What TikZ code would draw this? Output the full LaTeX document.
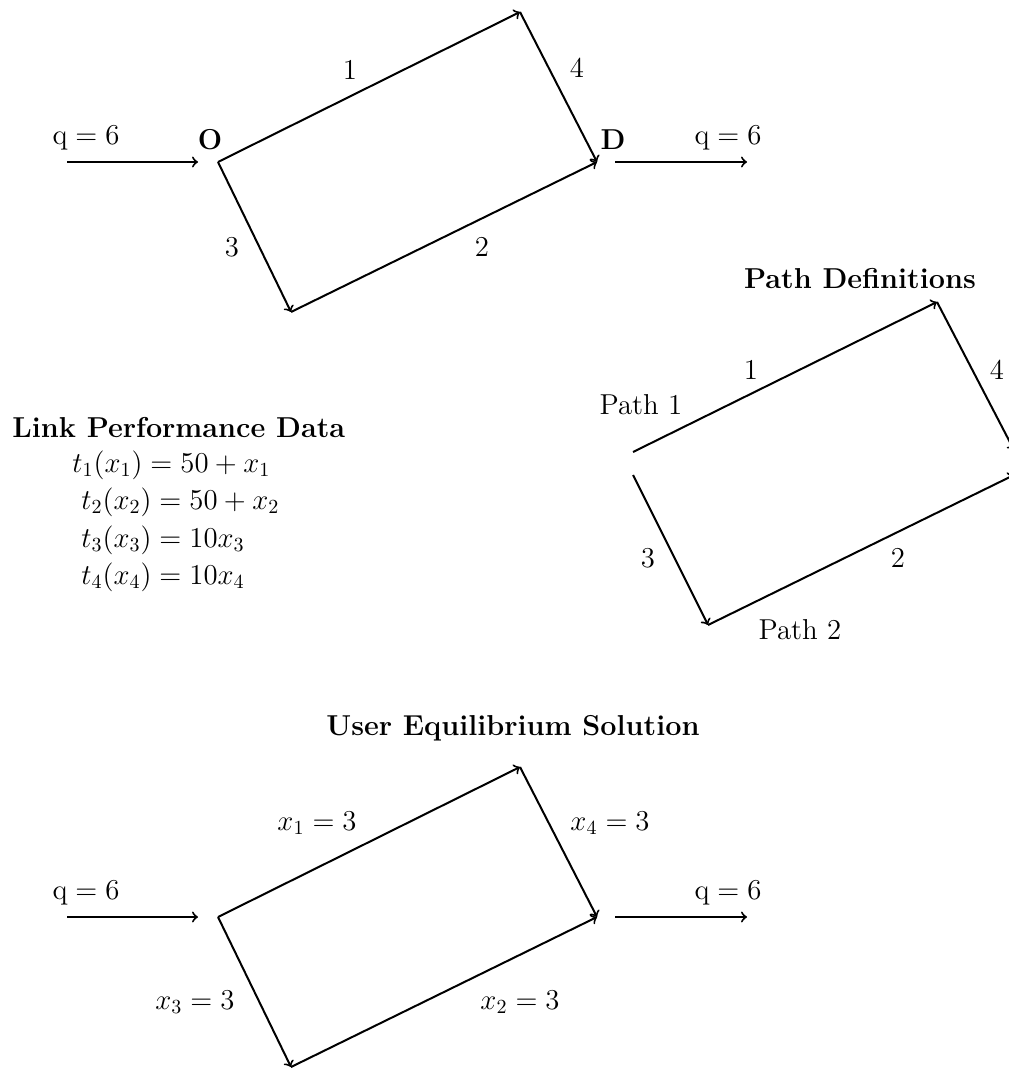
\documentclass[12pt,tikz,border=0pt]{standalone}
\usepackage{amsmath}
\usetikzlibrary{arrows}
\tikzstyle{arrow} = [line width=1pt,->,>=to]
\tikzstyle{heading} = [font=\large\bfseries]
\def\qq{$\mathrm{q} = 6$}

\begin{document}
\begin{tikzpicture}[x=0.5pt,y=-0.5pt,every node/.style={font=\large}]
\useasboundingbox (0,0) rectangle (1008,1069);

% network
\coordinate (o) at (218,162);
\coordinate (t) at (520,12);
\coordinate (d) at (597,162);
\coordinate (b) at (291,312);
\coordinate (in) at (67,162);
\coordinate (inend) at (198,162);
\coordinate (out) at (615,162);
\coordinate (outend) at (747,162);

\node (qa) at (86,138) {\qq};
\node (qb) at (728,138) {\qq};
\node (olabel) at (210,140) {\textbf{O}};
\node (dlabel) at (613,140) {\textbf{D}};
\node (l1) at (350,70) {1};
\node (l4) at (577,68) {4};
\node (l3) at (232,247) {3};
\node (l2) at (482,247) {2};

\draw [arrow] (in) -- (inend);
\draw [arrow] (out) -- (outend);
\draw [arrow] (o) -- (t);
\draw [arrow] (t) -- (d);
\draw [arrow] (o) -- (b);
\draw [arrow] (b) -- (d);

% link performance data
\node (perf) [heading,anchor=west] at (4,428) {Link Performance Data};
\node (t1) [anchor=west] at (64,465) {$t_1(x_1) = 50 + x_1$};
\node (t2) [anchor=west] at (73,502) {$t_2(x_2) = 50 + x_2$};
\node (t3) [anchor=west] at (73,540) {$t_3(x_3) = 10x_3$};
\node (t4) [anchor=west] at (73,577) {$t_4(x_4) = 10x_4$};

% path definitions
\node (paths) [heading] at (860,279) {Path Definitions};
\coordinate (p1) at (633,452);
\coordinate (pt) at (937,302);
\coordinate (pd1) at (1014,450);
\coordinate (p2) at (633,475);
\coordinate (pb) at (708,625);
\coordinate (pd2) at (1014,475);

\node (path1) at (641,405) {Path 1};
\node (path2) at (800,630) {Path 2};
\node (m1) at (751,370) {1};
\node (m4) at (997,370) {4};
\node (m3) at (648,558) {3};
\node (m2) at (898,558) {2};

\draw [arrow] (p1) -- (pt);
\draw [arrow] (pt) -- (pd1);
\draw [arrow] (p2) -- (pb);
\draw [arrow] (pb) -- (pd2);

% user equilibrium
\node (ue) [heading] at (513,728) {User Equilibrium Solution};
\coordinate (uo) at (218,917);
\coordinate (ut) at (520,767);
\coordinate (ud) at (597,917);
\coordinate (ub) at (291,1067);
\coordinate (uin) at (67,917);
\coordinate (uinend) at (198,917);
\coordinate (uout) at (615,917);
\coordinate (uoutend) at (747,917);

\node (uqa) at (86,893) {\qq};
\node (uqb) at (728,893) {\qq};
\node (x1) at (317,823) {$x_1 = 3$};
\node (x4) at (610,823) {$x_4 = 3$};
\node (x3) at (195,1002) {$x_3 = 3$};
\node (x2) at (520,1002) {$x_2 = 3$};

\draw [arrow] (uin) -- (uinend);
\draw [arrow] (uout) -- (uoutend);
\draw [arrow] (uo) -- (ut);
\draw [arrow] (ut) -- (ud);
\draw [arrow] (uo) -- (ub);
\draw [arrow] (ub) -- (ud);
\end{tikzpicture}
\end{document}
